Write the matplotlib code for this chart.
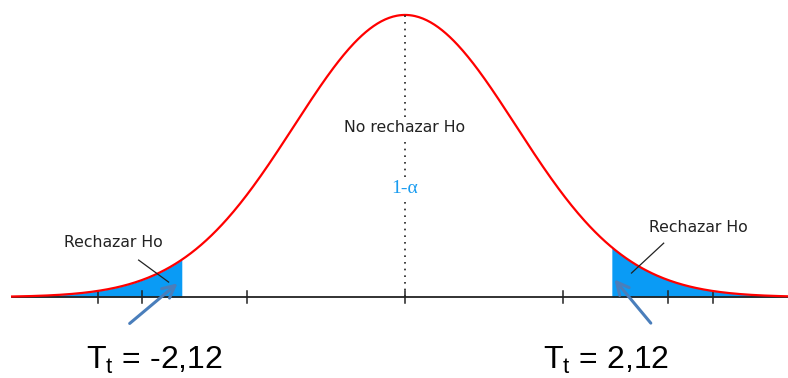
import numpy as np
import matplotlib
matplotlib.use("Agg")
import matplotlib.pyplot as plt

plt.rcParams["font.family"] = ["DejaVu Sans"]
plt.rcParams["mathtext.fontset"] = "custom"
plt.rcParams["mathtext.rm"] = "Liberation Sans"
plt.rcParams["mathtext.it"] = "Liberation Sans"

# datos (unidades de desviación estándar)
x_min, x_max = -3.54, 3.45
crit_left = -2.0
crit_right = 1.86
tick_pos = [-2.77, -2.37, -1.42, 0.0, 1.42, 2.37, 2.77]
label_center = "No rechazar Ho"
label_alpha = "1-α"
label_reject = "Rechazar Ho"
label_tl = r"T$_{\mathrm{t}}$ = -2,12"
label_tr = r"T$_{\mathrm{t}}$ = 2,12"

# curva de densidad normal (forma teórica)
x = np.linspace(x_min, x_max, 600)
y = np.exp(-x ** 2 / 2)

fig = plt.figure(figsize=(7.88, 3.78), dpi=100)
ax = fig.add_axes([0, 0, 1, 1])
ax.set_xlim(-3.649, 3.45)
ax.set_ylim(-0.287, 1.053)
ax.axis("off")

# colas sombreadas
m = x <= crit_left
ax.fill_between(x[m], 0, y[m], color="#0a9bf5", lw=0)
m = x >= crit_right
ax.fill_between(x[m], 0, y[m], color="#0a9bf5", lw=0)

# eje y marcas
ax.plot([x_min, x_max], [0, 0], color="#222222", lw=1.3)
for t in tick_pos:
    ax.plot([t, t], [-0.02, 0.02], color="#222222", lw=1.1)

# curva
ax.plot(x, y, color="#ff0000", lw=1.6)

# línea punteada central
ax.plot([0, 0], [0, 1.0], color="#222222", lw=1.2, ls=(0, (1, 3)))

ax.text(0, 0.6, label_center, ha="center", va="center", fontsize=11.3,
        color="#222222", bbox=dict(facecolor="white", edgecolor="none", pad=1))
ax.text(0, 0.385, label_alpha, ha="center", va="center", fontsize=14,
        color="#1a9cf0", family="Liberation Serif",
        bbox=dict(facecolor="white", edgecolor="none", pad=1))

ax.text(-2.63, 0.195, label_reject, ha="center", va="center", fontsize=11.3, color="#222222")
ax.text(2.64, 0.248, label_reject, ha="center", va="center", fontsize=11.3, color="#222222")

# líneas guía
ax.plot([-2.4, -2.13], [0.131, 0.053], color="#222222", lw=0.9)
ax.plot([2.33, 2.04], [0.191, 0.085], color="#222222", lw=0.9)

# flechas azules
ax.annotate("", xy=(-2.03, 0.055), xytext=(-2.5, -0.1),
            arrowprops=dict(arrowstyle="->", color="#4a7ebb", lw=2.2, mutation_scale=22))
ax.annotate("", xy=(1.87, 0.07), xytext=(2.23, -0.1),
            arrowprops=dict(arrowstyle="->", color="#4a7ebb", lw=2.2, mutation_scale=22))

ax.text(-2.87, -0.255, label_tl, ha="left", va="baseline", fontsize=23,
        family="Liberation Sans", color="black")
ax.text(1.24, -0.255, label_tr, ha="left", va="baseline", fontsize=23,
        family="Liberation Sans", color="black")

fig.savefig("out.png", dpi=100)
